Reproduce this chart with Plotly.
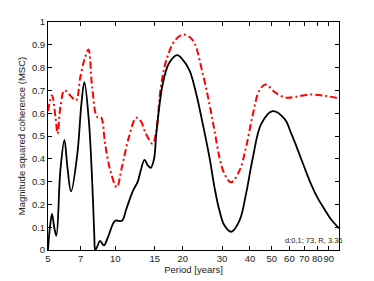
import plotly.graph_objects as go

# Black solid curve (MSC)
black_period = [5.0, 5.1, 5.21, 5.33, 5.45, 5.68, 5.92, 6.11, 6.34, 6.76, 7.05, 7.27,
                7.61, 7.88, 8.05, 8.13, 8.3, 8.54, 8.89, 9.3, 9.98, 10.7, 11.2, 12.0, 12.6, 13.0, 13.5,
                14.0, 14.4, 14.9, 15.25, 16.3, 17.4, 18.9, 20.0, 21.46, 22.99, 24.6, 26.35, 27.75, 29.2,
                30.76, 32.95, 35.9, 38.4, 41.1, 44.9, 50.5, 57.1, 61.2, 65.6, 70.0, 74.9,
                80.0, 86.0, 91.9, 100.0]
black_msc = [0.0, 0.1, 0.158, 0.1, 0.063, 0.35, 0.483, 0.36, 0.257, 0.42, 0.64, 0.736,
             0.57, 0.30, 0.07, 0.0, 0.015, 0.04, 0.02, 0.06, 0.128, 0.128, 0.18, 0.26, 0.3, 0.35, 0.395,
             0.37, 0.36, 0.4, 0.51, 0.73, 0.82, 0.855, 0.835, 0.788, 0.685, 0.553, 0.407, 0.275, 0.173,
             0.107, 0.080, 0.129, 0.246, 0.40, 0.553, 0.609, 0.575, 0.51, 0.436, 0.363, 0.29,
             0.231, 0.18, 0.136, 0.095]

# Red dash-dot curve (significance level)
red_period = [5.0, 5.21, 5.4, 5.52, 5.68, 5.92, 6.29, 6.67, 6.97, 7.3, 7.58, 7.88,
              8.3, 8.62, 9.0, 9.5, 10.15, 10.7, 11.5, 12.4, 13.0, 13.7, 14.7, 15.25,
              16.0, 17.0, 18.5, 20.2, 22.2, 24.6, 26.35, 27.75, 29.2, 30.76, 32.95, 35.9, 38.4, 41.1,
              44.06, 47.0, 52.0, 58.1, 64.0, 74.9, 88.0, 100.0]
red_msc = [0.61, 0.678, 0.583, 0.51, 0.627, 0.70, 0.678, 0.656, 0.758, 0.84, 0.879, 0.714,
           0.583, 0.583, 0.466, 0.348, 0.275, 0.363, 0.495, 0.58, 0.565, 0.51, 0.466, 0.525,
           0.72, 0.84, 0.92, 0.945, 0.92, 0.773, 0.64, 0.524, 0.407, 0.334, 0.297, 0.348, 0.45, 0.59,
           0.70, 0.726, 0.69, 0.668, 0.672, 0.682, 0.675, 0.665]

x_ticks = [5, 7, 10, 15, 20, 30, 40, 50, 60, 70, 80, 90]
x_tick_labels = ["5", "7", "10", "15", "20", "30", "40", "50", "60", "70", "80", "90"]
y_ticks = [0, 0.1, 0.2, 0.3, 0.4, 0.5, 0.6, 0.7, 0.8, 0.9, 1]
y_tick_labels = ["0", "0.1", "0.2", "0.3", "0.4", "0.5", "0.6", "0.7", "0.8", "0.9", "1"]
note = "d:0,1; 73, R, 3.36"

fig = go.Figure()
fig.add_trace(go.Scatter(x=red_period, y=red_msc, mode="lines", line_shape="spline",
                         line=dict(color="#ff0000", width=2, dash="7px,3px,2px,3px"),
                         showlegend=False, hoverinfo="skip"))
fig.add_trace(go.Scatter(x=black_period, y=black_msc, mode="lines", line_shape="spline",
                         line=dict(color="black", width=1.8),
                         showlegend=False, hoverinfo="skip"))

font_main = "Liberation Sans, Arial, sans-serif"
# the page body adds an 8px offset, so the figure is sized 8px smaller
fig.update_layout(
    width=366, height=273,
    margin=dict(l=40, r=35, t=14, b=31),
    paper_bgcolor="white", plot_bgcolor="white",
    font=dict(family=font_main, size=10, color="#222"),
    xaxis=dict(type="log", range=[0.69897, 2.0], tickvals=x_ticks, ticktext=x_tick_labels,
               tickangle=0, automargin=False,
               ticks="inside", ticklen=4, tickcolor="black", mirror="ticks",
               showline=True, linecolor="black", linewidth=1, showgrid=False, zeroline=False,
               title=dict(text="Period [years]", font=dict(size=9.5), standoff=2),
               tickfont=dict(size=9.5)),
    yaxis=dict(range=[0, 1], tickvals=y_ticks, ticktext=y_tick_labels, automargin=False,
               ticks="inside", ticklen=4, tickcolor="black", mirror="ticks",
               showline=True, linecolor="black", linewidth=1, showgrid=False, zeroline=False,
               title=dict(text="Magnitude squared coherence (MSC)", font=dict(size=9.5), standoff=4),
               tickfont=dict(size=9.5)),
    annotations=[dict(text=note, xref="paper", yref="paper", x=1.02, y=0.04,
                      xanchor="right", yanchor="middle", showarrow=False,
                      font=dict(size=7.5, color="#222"))],
)

fig.write_html("out.html")
